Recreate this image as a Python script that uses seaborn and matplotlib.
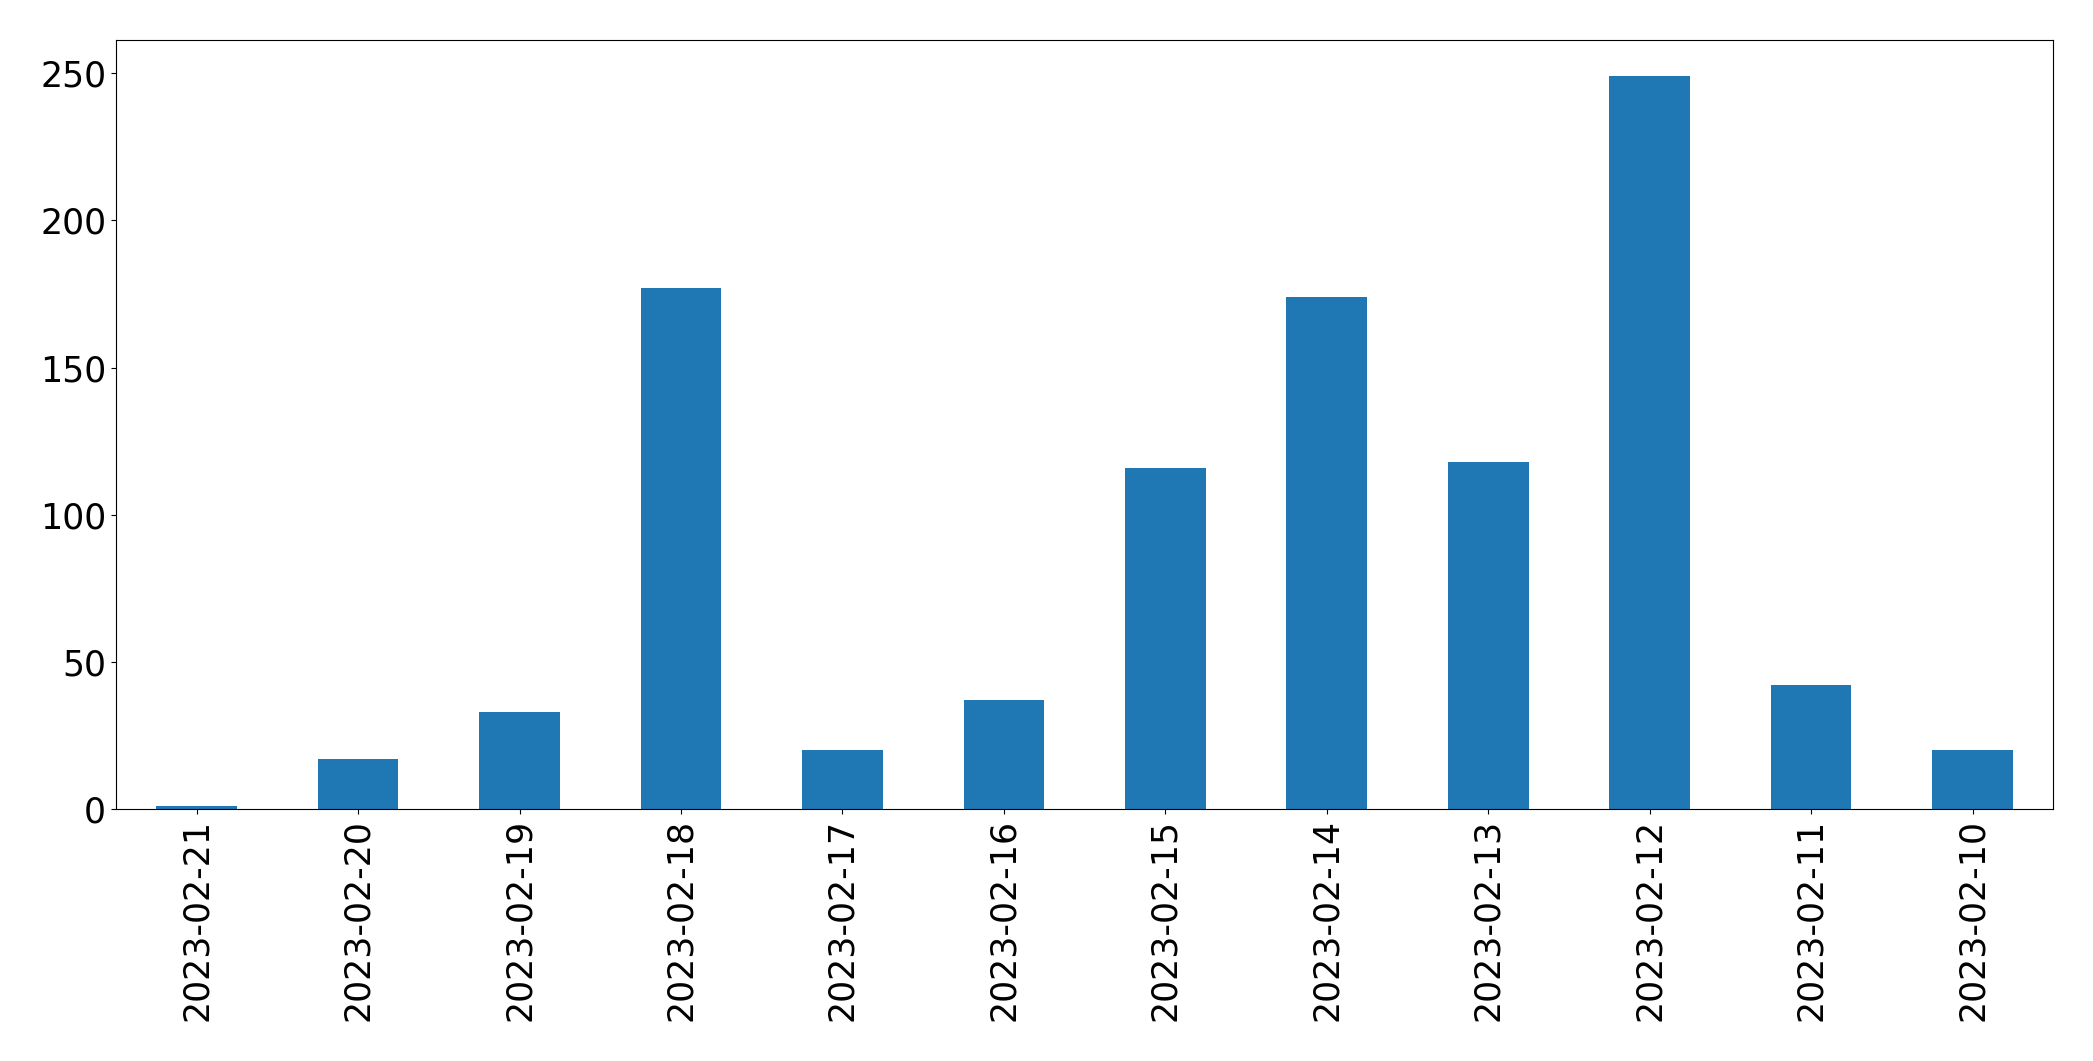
import pandas as pd
import matplotlib
matplotlib.use("Agg")
import matplotlib.pyplot as plt
import seaborn as sns

# data
dates = [
    "2023-02-21", "2023-02-20", "2023-02-19", "2023-02-18", "2023-02-17", "2023-02-16",
    "2023-02-15", "2023-02-14", "2023-02-13", "2023-02-12", "2023-02-11", "2023-02-10",
]
counts = [1, 17, 33, 177, 20, 37, 116, 174, 118, 249, 42, 20]

df = pd.DataFrame({"date": dates, "count": counts})

plt.rcParams["font.family"] = ["DejaVu Sans"]
plt.rcParams["font.size"] = 25

fig = plt.figure(figsize=(20.93, 10.61), dpi=100)
ax = fig.add_axes([0.0554, 0.2375, 0.9256, 0.7252])

sns.barplot(data=df, x="date", y="count", order=dates, color="#1f77b4",
            saturation=1, width=0.5, ax=ax)

ax.set_xlim(-0.5, len(dates) - 0.5)
ax.set_ylim(0, max(counts) * 1.05)
ax.set_xlabel("")
ax.set_ylabel("")
ax.tick_params(axis="both", labelsize=25)
plt.setp(ax.get_xticklabels(), rotation=90)
for s in ax.spines.values():
    s.set_edgecolor("black")

fig.savefig("out.png", dpi=100)
